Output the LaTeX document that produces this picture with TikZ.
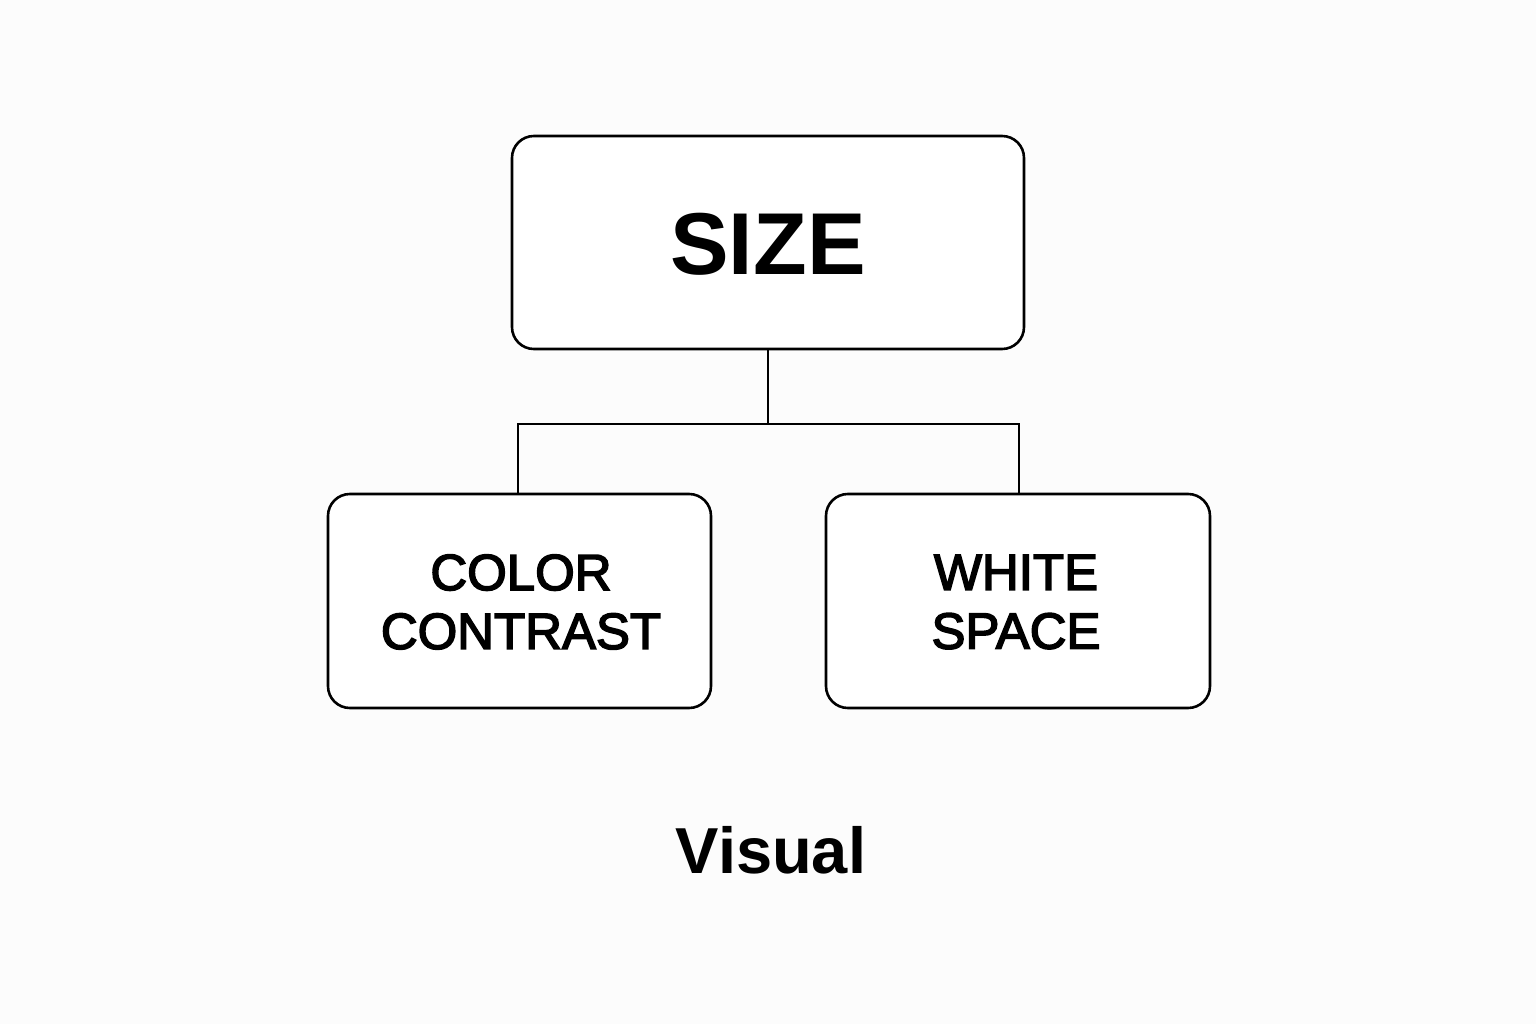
\documentclass[tikz,border=0pt]{standalone}
\usepackage{fontspec}
\setmainfont{Liberation Sans}
\newfontfamily\medfont{Liberation Sans}[FakeBold=3]
\begin{document}
\begin{tikzpicture}[x=0.02cm,y=-0.02cm,
  box/.style={draw=black,line width=2.6*0.5669pt,rounded corners=22*0.5669pt,inner sep=0pt,fill=white},
  conn/.style={draw=black,line width=2.4*0.5669pt},
  small/.style={font=\medfont\fontsize{29}{33.5}\selectfont,align=center}]
\fill[white!99!black] (0,0) rectangle (1536,1024);
\useasboundingbox (0,0) rectangle (1536,1024);
\node[box,minimum width=512*0.02cm,minimum height=213*0.02cm] (size) at (768,242.5) {};
\node[font=\fontsize{50}{56}\selectfont\bfseries] (sizet) at (768,244) {SIZE};
\node[box,minimum width=383*0.02cm,minimum height=214*0.02cm] (color) at (519.5,601) {};
\node[small] (colort) at (521,602) {COLOR\\CONTRAST};
\node[box,minimum width=384*0.02cm,minimum height=214*0.02cm] (white) at (1018,601) {};
\node[small] (whitet) at (1016,602) {WHITE\\SPACE};
\coordinate (j) at (768,424);
\draw[conn] (size.south) -- (j);
\draw[conn] (color.north -| 518,0) |- (j) -| (white.north -| 1019,0);
\node[font=\fontsize{37}{42}\selectfont\bfseries] (vis) at (771,850) {Visual};
\end{tikzpicture}
\end{document}
